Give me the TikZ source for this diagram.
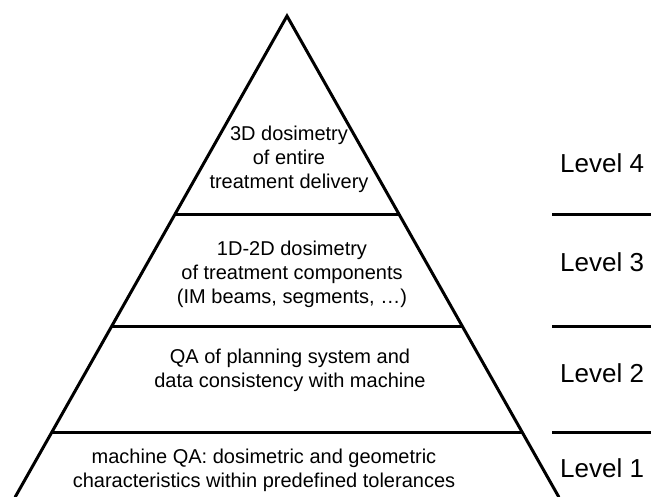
\documentclass[tikz,border=0pt]{standalone}
\usepackage{fontspec}
\setmainfont{Liberation Sans}
\usetikzlibrary{calc}
\begin{document}
\begin{tikzpicture}[x=1pt,y=-1pt,
  edge/.style={line width=3pt,line cap=round,line join=miter},
  divider/.style={line width=3pt},
  ptext/.style={align=center,font=\fontsize{20}{24}\selectfont,inner sep=0pt},
  lvl/.style={anchor=west,font=\fontsize{26}{30}\selectfont,inner sep=0pt}]
\useasboundingbox (0,0) rectangle (651,497);
\coordinate (apex) at (287,16);
\coordinate (bl) at (15.2,497);
\coordinate (br) at (558.8,497);
% pyramid sides
\draw[edge] (bl) -- (apex) -- (br);
% dividers inside the pyramid
\coordinate (d4l) at ($(apex)!0.4137!(bl)$);
\coordinate (d4r) at ($(apex)!0.4137!(br)$);
\coordinate (d3l) at ($(apex)!0.6445!(bl)$);
\coordinate (d3r) at ($(apex)!0.6445!(br)$);
\coordinate (d2l) at ($(apex)!0.8649!(bl)$);
\coordinate (d2r) at ($(apex)!0.8649!(br)$);
\draw[divider] (d4l) -- (d4r);
\draw[divider] (d3l) -- (d3r);
\draw[divider] (d2l) -- (d2r);
% dividers on the right
\coordinate (r4a) at (552,215); \coordinate (r4b) at (651,215);
\coordinate (r3a) at (552,326); \coordinate (r3b) at (651,326);
\coordinate (r2a) at (552,432); \coordinate (r2b) at (651,432);
\draw[divider] (r4a) -- (r4b);
\draw[divider] (r3a) -- (r3b);
\draw[divider] (r2a) -- (r2b);
% texts
\node[ptext] (t4) at (289,159) {3D dosimetry\\of entire\\treatment delivery};
\node[ptext] (t3) at (292,274) {1D-2D dosimetry\\of treatment components\\(IM beams, segments, \dots)};
\node[ptext] (t2) at (290,370) {QA of planning system and\\data consistency with machine};
\node[ptext] (t1) at (264,470) {machine QA: dosimetric and geometric\\characteristics within predefined tolerances};
\node[lvl] (l4) at (560,163) {Level 4};
\node[lvl] (l3) at (560,262) {Level 3};
\node[lvl] (l2) at (560,373) {Level 2};
\node[lvl] (l1) at (560,468) {Level 1};
\end{tikzpicture}
\end{document}
